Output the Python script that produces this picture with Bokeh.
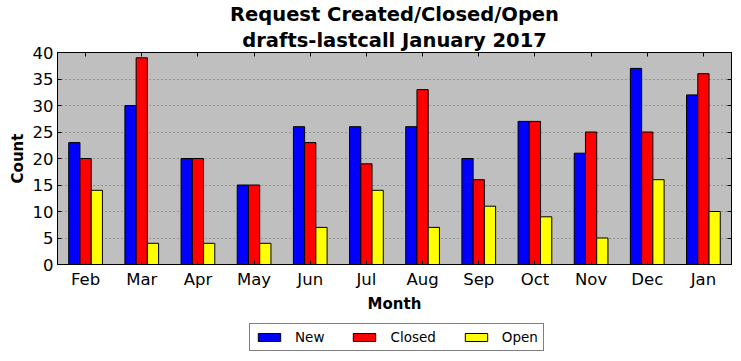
from bokeh.plotting import figure
from bokeh.layouts import column
from bokeh.models import (ColumnDataSource, FixedTicker, LinearAxis, Title, Legend,
                          LegendItem, Range1d)
from bokeh.transform import dodge
from bokeh.embed import file_html
from bokeh.resources import INLINE

months = ["Feb", "Mar", "Apr", "May", "Jun", "Jul", "Aug", "Sep", "Oct", "Nov", "Dec", "Jan"]
new_counts = [23, 30, 20, 15, 26, 26, 26, 20, 27, 21, 37, 32]
closed_counts = [20, 39, 20, 15, 23, 19, 33, 16, 27, 25, 25, 36]
open_counts = [14, 4, 4, 4, 7, 14, 7, 11, 9, 5, 16, 10]
y_ticks = [0, 5, 10, 15, 20, 25, 30, 35, 40]
series = ["New", "Closed", "Open"]
fields = ["new", "closed", "open"]
colors = ["blue", "red", "yellow"]

positions = list(range(len(months)))
src = ColumnDataSource(dict(x=positions, new=new_counts, closed=closed_counts, open=open_counts))

FONT = "DejaVu Sans"
W = 733

p = figure(width=W, height=315, output_backend="svg", toolbar_location=None,
           x_range=Range1d(-0.5, len(months) - 0.5), y_range=Range1d(0, 40),
           min_border_left=57, min_border_right=2, min_border_top=52, min_border_bottom=50)
p.background_fill_color = "#bfbfbf"
p.border_fill_color = "white"
p.outline_line_color = "black"
p.outline_line_width = 1

bw = 0.2
offsets = [-bw, 0, bw]
for f, col, off in zip(fields, colors, offsets):
    p.vbar(x=dodge("x", off), top=f, width=bw, source=src,
           fill_color=col, line_color="black")

# axes
p.xaxis.ticker = FixedTicker(ticks=positions)
p.xaxis.major_label_overrides = {i: m for i, m in enumerate(months)}
p.yaxis.ticker = FixedTicker(ticks=y_ticks)
for ax in (p.xaxis[0], p.yaxis[0]):
    ax.major_tick_in = 4
    ax.major_tick_out = 0
    ax.minor_tick_line_color = None
    ax.axis_line_color = "black"
    ax.major_label_text_font = FONT
    ax.major_label_text_font_size = "16.5px"
    ax.major_label_text_color = "black"
    ax.axis_label_text_font = FONT
    ax.axis_label_text_font_size = "15px"
    ax.axis_label_text_font_style = "bold"
    ax.axis_label_text_color = "black"
p.xaxis.axis_label = "Month"
p.yaxis.axis_label = "Count"
p.xaxis.major_label_standoff = 5
p.xaxis.axis_label_standoff = 3
p.yaxis.major_label_standoff = 4
p.yaxis.axis_label_standoff = 3

right = LinearAxis(ticker=FixedTicker(ticks=y_ticks), major_tick_in=4, major_tick_out=0,
                   minor_tick_line_color=None, major_label_text_font_size="1px",
                   major_label_text_color=None, major_label_standoff=0,
                   axis_label_standoff=0, axis_line_color="black")
top = LinearAxis(ticker=FixedTicker(ticks=positions), major_tick_in=4, major_tick_out=0,
                 minor_tick_line_color=None, major_label_text_font_size="1px",
                 major_label_text_color=None, major_label_standoff=0,
                 axis_label_standoff=0, axis_line_color="black")
p.add_layout(right, "right")
p.add_layout(top, "above")

p.xgrid.visible = False
p.ygrid.grid_line_color = "black"
p.ygrid.grid_line_alpha = 0.45
p.ygrid.grid_line_dash = "1 3"

# titles
p.add_layout(Title(text="drafts-lastcall January 2017", align="center", text_font=FONT,
                   text_font_size="19.5px", text_font_style="bold", text_color="black",
                   standoff=2), "above")
p.add_layout(Title(text="Request Created/Closed/Open", align="center", text_font=FONT,
                   text_font_size="19.5px", text_font_style="bold", text_color="black",
                   standoff=0), "above")

# legend strip below the chart; its renderers are hidden, only the swatches show
lg = figure(width=W, height=45, output_backend="svg", toolbar_location=None,
            x_axis_location=None, y_axis_location=None,
            x_range=Range1d(-0.5, len(months) - 0.5), y_range=Range1d(0, 40),
            min_border_left=0, min_border_right=0, min_border_top=0, min_border_bottom=0)
lg.grid.visible = False
lg.outline_line_color = None
lg.background_fill_color = "white"
lg.border_fill_color = "white"
items = []
for name, f, col in zip(series, fields, colors):
    r = lg.vbar(x="x", top=f, width=bw, source=src, fill_color=col, line_color="black",
                visible=False)
    items.append(LegendItem(label=name, renderers=[r]))

legend = Legend(items=items, orientation="horizontal", location=(192, 9),
                glyph_width=28, glyph_height=10, label_standoff=12, spacing=26,
                padding=5, margin=0, label_text_font=FONT, label_text_font_size="13.5px",
                label_text_color="black", border_line_color="black", border_line_width=1,
                background_fill_color="white", background_fill_alpha=1,
                inactive_fill_alpha=0)
lg.add_layout(legend)

layout = column(p, lg, spacing=0)
open("out.html", "w").write(file_html(layout, INLINE))
